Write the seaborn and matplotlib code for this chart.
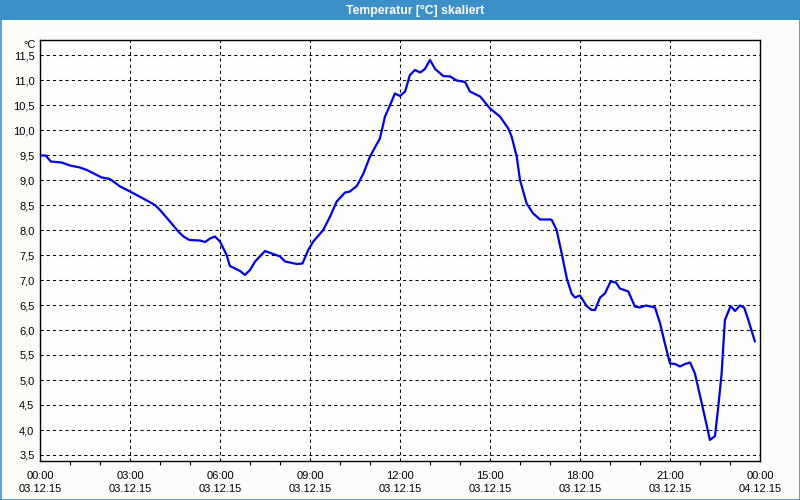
import matplotlib
matplotlib.use("Agg")
import matplotlib.pyplot as plt
from matplotlib.patches import Rectangle
from matplotlib.ticker import MultipleLocator, FixedLocator
import seaborn as sns
import pandas as pd

# ---- data ----
hours = [0.0, 0.19, 0.36, 0.72, 1.0, 1.33, 1.56, 1.89, 2.06, 2.33, 2.67, 3.0, 3.22,
         3.5, 3.83, 4.0, 4.33, 4.61, 4.78, 4.98, 5.33, 5.5, 5.67, 5.83, 6.0, 6.22,
         6.33, 6.67, 6.83, 7.0, 7.17, 7.5, 8.0, 8.17, 8.56, 8.75, 8.94, 9.11, 9.44,
         9.67, 9.89, 10.17, 10.33, 10.56, 10.78, 11.0, 11.33, 11.5, 11.67, 11.83,
         12.0, 12.17, 12.33, 12.5, 12.67, 12.83, 13.0, 13.17, 13.44, 13.67, 13.89,
         14.17, 14.33, 14.67, 15.0, 15.33, 15.61, 15.72, 15.89, 16.0, 16.22, 16.44,
         16.67, 17.0, 17.06, 17.22, 17.39, 17.56, 17.72, 17.83, 18.0, 18.22, 18.39,
         18.5, 18.67, 18.83, 19.02, 19.2, 19.33, 19.61, 19.83, 20.0, 20.2, 20.5,
         20.67, 20.83, 21.0, 21.17, 21.33, 21.5, 21.67, 21.83, 22.06, 22.22, 22.33,
         22.5, 22.61, 22.72, 22.83, 23.02, 23.17, 23.33, 23.47, 23.61, 23.83]
temps = [9.49, 9.49, 9.37, 9.35, 9.29, 9.25, 9.2, 9.1, 9.05, 9.02, 8.87, 8.77, 8.7,
         8.61, 8.5, 8.4, 8.17, 7.97, 7.87, 7.8, 7.79, 7.76, 7.83, 7.87, 7.77, 7.5,
         7.28, 7.18, 7.1, 7.2, 7.37, 7.58, 7.47, 7.37, 7.32, 7.33, 7.6, 7.77, 8.0,
         8.27, 8.57, 8.75, 8.77, 8.88, 9.13, 9.47, 9.83, 10.27, 10.5, 10.73,
         10.68, 10.77, 11.1, 11.2, 11.15, 11.22, 11.4, 11.22, 11.08, 11.07, 10.99,
         10.96, 10.77, 10.67, 10.43, 10.27, 10.03, 9.87, 9.47, 9.0, 8.53, 8.33,
         8.21, 8.21, 8.2, 8.0, 7.53, 7.03, 6.73, 6.65, 6.69, 6.48, 6.4,
         6.4, 6.65, 6.73, 6.97, 6.95, 6.83, 6.77, 6.47, 6.45, 6.49, 6.45,
         6.13, 5.73, 5.33, 5.32, 5.27, 5.32, 5.35, 5.13, 4.53, 4.1, 3.8,
         3.88, 4.47, 5.13, 6.2, 6.48, 6.38, 6.49, 6.45, 6.2, 5.77]
tick_hours = [0, 3, 6, 9, 12, 15, 18, 21, 24]
tick_labels = ["00:00\n03.12.15", "03:00\n03.12.15", "06:00\n03.12.15",
               "09:00\n03.12.15", "12:00\n03.12.15", "15:00\n03.12.15",
               "18:00\n03.12.15", "21:00\n03.12.15", "00:00\n04.12.15"]
y_ticks = [3.5, 4.0, 4.5, 5.0, 5.5, 6.0, 6.5, 7.0, 7.5, 8.0, 8.5, 9.0, 9.5,
           10.0, 10.5, 11.0, 11.5]
title = "Temperatur [°C] skaliert"
unit = "°C"

df = pd.DataFrame({"h": hours, "t": temps})

sns.set_style("white")
plt.rcParams["font.family"] = ["Liberation Sans", "DejaVu Sans"]

W, H = 800, 500
fig = plt.figure(figsize=(8, 5), dpi=100, facecolor="#fbfdfb")
ax = fig.add_axes([40 / W, 1 - 461 / H, 720 / W, 421 / H])
ax.set_facecolor("#fdfefd")

sns.lineplot(data=df, x="h", y="t", ax=ax, color="#0000ee", linewidth=1.6,
             zorder=3)

ax.set_xlim(0, 24)
ax.set_ylim(3.38, 11.8)
ax.xaxis.set_major_locator(FixedLocator(tick_hours))
ax.set_xticks(tick_hours)
ax.set_xticklabels(tick_labels, fontsize=8, linespacing=1.4)
ax.xaxis.set_minor_locator(MultipleLocator(1))
ax.set_yticks(y_ticks)
ax.set_yticklabels([f"{v:.1f}".replace(".", ",") for v in y_ticks], fontsize=8)
ax.set_xlabel("")
ax.set_ylabel("")
ax.tick_params(axis="x", which="major", direction="out", length=4, width=0.8,
               color="black", pad=3, labelcolor="black")
ax.tick_params(axis="x", which="minor", direction="out", length=3, width=0.8,
               color="black", bottom=True)
ax.tick_params(axis="y", which="major", length=0, pad=4, labelcolor="black")

ax.grid(True, which="major", color="black", linestyle=(0, (3, 3)),
        linewidth=0.75)
for s in ax.spines.values():
    s.set_visible(True)
    s.set_color("black")
    s.set_linewidth(1.0)

ax.text(-0.006, 11.7, unit, transform=ax.get_yaxis_transform(), ha="right",
        va="center", fontsize=8, color="black")

# title bar
fig.patches.append(Rectangle((0, 1 - 20 / H), 1, 20 / H,
                             transform=fig.transFigure, facecolor="#3b90c8",
                             edgecolor="none", zorder=0))
fig.patches.append(Rectangle((0.5 / W, 0.5 / H), 1 - 1 / W, 1 - 1 / H,
                             transform=fig.transFigure, facecolor="none",
                             edgecolor="#3b90c8", linewidth=1.2, zorder=5))
fig.text(415 / W, 1 - 10.5 / H, title, ha="center", va="center",
         color="white", fontsize=8.8, fontweight="bold")

fig.savefig("out.png", dpi=100, facecolor=fig.get_facecolor())
